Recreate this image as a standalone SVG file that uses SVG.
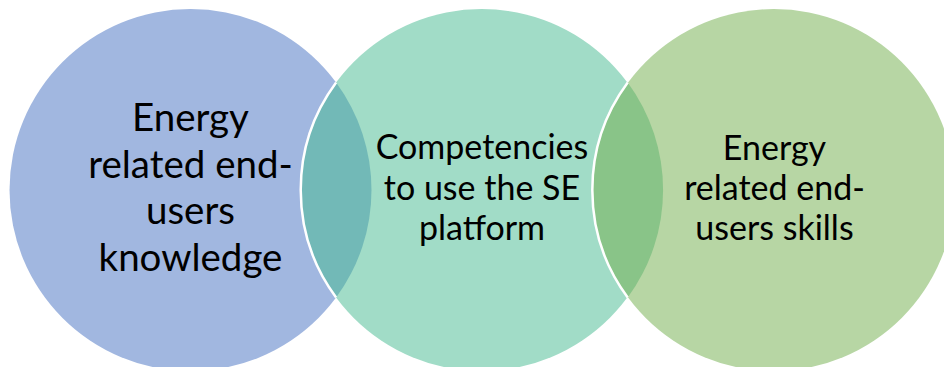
<svg xmlns="http://www.w3.org/2000/svg" width="944" height="367" viewBox="0 0 944 367">
  <style>
    .label { font-family: Lato, "Open Sans", "Liberation Sans", sans-serif; fill: #000000; text-anchor: middle; }
    .big { font-size: 38.5px; }
    .mid { font-size: 34px; }
    .edge { fill: none; stroke: #ffffff; stroke-width: 2.5; }
  </style>
  <rect width="944" height="367" fill="#ffffff"/>

  <!-- Venn circles -->
  <g id="circle-knowledge">
    <circle cx="190.5" cy="190" r="181" fill="#A1B7E0"/>
  </g>
  <g id="circle-competencies">
    <circle cx="481.7" cy="190" r="181" fill="#A1DCC7"/>
  </g>
  <g id="circle-skills">
    <circle cx="773.7" cy="190" r="181" fill="#B7D6A4"/>
  </g>

  <!-- overlap regions -->
  <g id="overlaps">
    <path d="M336.1 82.5 A181 181 0 0 0 336.1 297.5 A181 181 0 0 0 336.1 82.5 Z" fill="#72B9B7"/>
    <path d="M627.7 82.5 A181 181 0 0 0 627.7 297.5 A181 181 0 0 0 627.7 82.5 Z" fill="#89C488"/>
    <path class="edge" d="M336.1 82.5 A181 181 0 0 0 336.1 297.5"/>
    <path class="edge" d="M627.7 82.5 A181 181 0 0 0 627.7 297.5"/>
  </g>

  <!-- labels -->
  <g id="label-knowledge">
    <text class="label big" x="190.5" y="130.7">Energy</text>
    <text class="label big" x="190.5" y="177.5">related end-</text>
    <text class="label big" x="190.5" y="224">users</text>
    <text class="label big" x="190.5" y="270.5">knowledge</text>
  </g>
  <g id="label-competencies">
    <text class="label mid" x="482" y="159.3">Competencies</text>
    <text class="label mid" x="482" y="199.8">to use the SE</text>
    <text class="label mid" x="482" y="240.3">platform</text>
  </g>
  <g id="label-skills">
    <text class="label mid" x="774.5" y="159.5">Energy</text>
    <text class="label mid" x="774.5" y="200">related end-</text>
    <text class="label mid" x="774.5" y="240">users skills</text>
  </g>
</svg>
